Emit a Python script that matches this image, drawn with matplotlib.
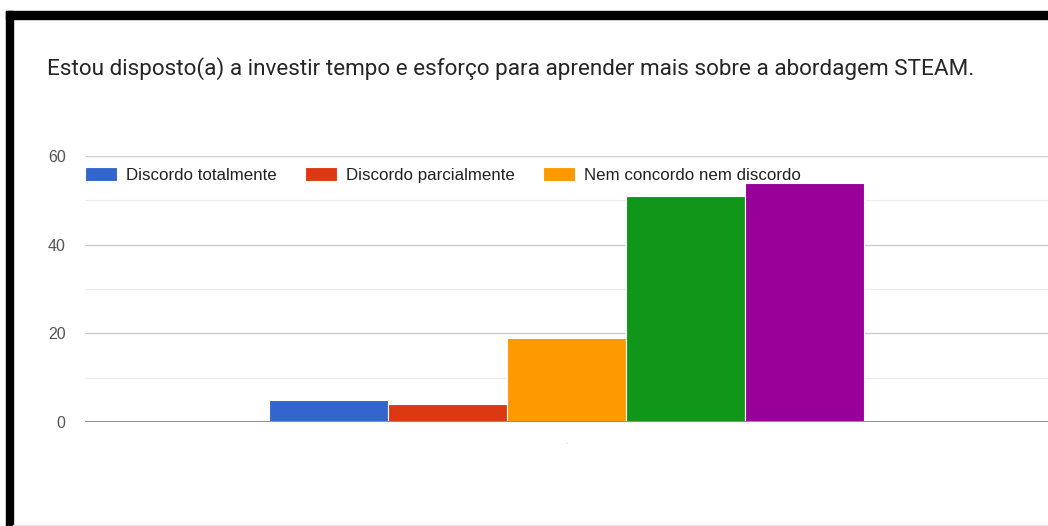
import matplotlib
matplotlib.use("Agg")
import matplotlib.pyplot as plt
from matplotlib.patches import Rectangle

# respostas da pergunta sobre a abordagem STEAM
titulo = "Estou disposto(a) a investir tempo e esforço para aprender mais sobre a abordagem STEAM."
respostas = ["Discordo totalmente", "Discordo parcialmente", "Nem concordo nem discordo",
             "Concordo parcialmente", "Concordo totalmente"]
contagens = [5, 4, 19, 51, 54]
cores = ["#3366cc", "#dc3912", "#ff9900", "#109618", "#990099"]
yticks = [0, 20, 40, 60]

W, H = 1048, 526
fig = plt.figure(figsize=(W / 100, H / 100), dpi=100)
fig.patch.set_facecolor("white")

# area do grafico
ax = fig.add_axes([85 / W, (H - 422) / H, (W - 85) / W, (422 - 156) / H])
pos = [i - (len(contagens) - 1) / 2 for i in range(len(contagens))]
barras = ax.bar(pos, contagens, width=1.0, color=cores, edgecolor="white",
                linewidth=0.8, zorder=2)
ax.set_xlim(-4.04, 4.04)
ax.set_ylim(0, 60)

for v in [10, 30, 50]:
    ax.axhline(v, color="#ececec", lw=0.8, zorder=1)
for v in [20, 40, 60]:
    ax.axhline(v, color="#cccccc", lw=1.0, zorder=1)
ax.axhline(0, color="#8f8f8f", lw=2.2, zorder=3)

for s in ax.spines.values():
    s.set_visible(False)
ax.set_yticks(yticks)
ax.set_yticklabels([str(v) for v in yticks], family="Liberation Sans",
                   fontsize=11.5, color="#555555")
ax.tick_params(axis="y", length=0, pad=14)
ax.set_xticks([0])
ax.set_xticklabels(["·"], fontsize=5, color="#bbbbbb")
ax.tick_params(axis="x", length=0, pad=14)

# legenda (so as tres primeiras entradas cabem)
ax.legend(barras[:3], respostas[:3], loc="center left",
          bbox_to_anchor=(85 / W, (H - 175) / H), bbox_transform=fig.transFigure,
          ncol=3, frameon=False, prop={"family": "Liberation Sans", "size": 12.2},
          labelcolor="#222222", handlelength=1.89, handleheight=0.89,
          handletextpad=0.53, columnspacing=1.66, borderpad=0, borderaxespad=0)

fig.text(47 / W, (H - 69) / H, titulo, family="Roboto", fontsize=16.2,
         color="#262626", ha="left", va="center")

# moldura preta no topo e a esquerda
fig.patches.append(Rectangle((6 / W, (H - 19) / H), (W - 6) / W, 8 / H,
                             transform=fig.transFigure, color="black", zorder=5))
fig.patches.append(Rectangle((6 / W, 0), 7 / W, (H - 11) / H,
                             transform=fig.transFigure, color="black", zorder=5))
fig.patches.append(Rectangle((13 / W, 0), (W - 13) / W, 1.5 / H,
                             transform=fig.transFigure, color="#e6e6e6", zorder=5))

fig.savefig("out.png", dpi=100)
